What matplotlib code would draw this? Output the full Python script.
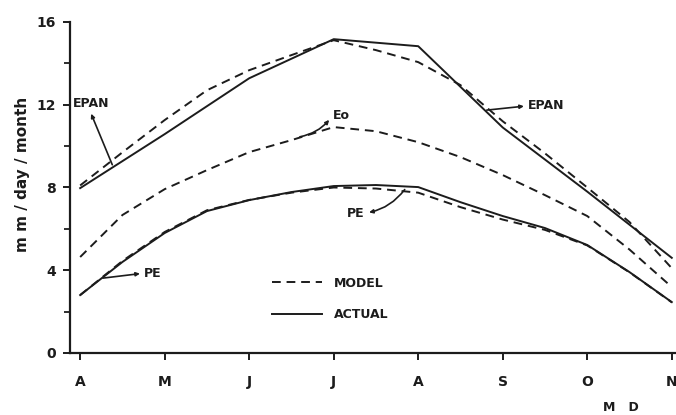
import matplotlib.pyplot as plt
import numpy as np

# month axis (April .. November)
months = ['A', 'M', 'J', 'J', 'A', 'S', 'O', 'N']
month_x = [0, 1, 2, 3, 4, 5, 6, 7]
half_x = [0, 0.5, 1, 1.5, 2, 2.5, 3, 3.5, 4, 4.5, 5, 5.5, 6, 6.5, 7]

# values, mm/day/month
epan_actual = [7.97, 10.58, 13.28, 15.17, 14.83, 10.9, 7.8, 4.6]
epan_model = [8.1, 9.7, 11.26, 12.7, 13.67, 14.4, 15.12, 14.64, 14.06, 12.95, 11.2, 9.65, 8.0, 6.33, 4.1]
eo_model = [4.64, 6.67, 7.92, 8.84, 9.71, 10.29, 10.92, 10.72, 10.19, 9.47, 8.6, 7.63, 6.62, 5.0, 3.19]
pe_actual = [2.8, 4.4, 5.8, 6.86, 7.39, 7.78, 8.07, 8.12, 8.02, 7.29, 6.62, 6.04, 5.22, 3.91, 2.46]
pe_model = [2.8, 4.45, 5.85, 6.9, 7.4, 7.75, 8.0, 7.95, 7.75, 7.05, 6.45, 5.95, 5.2, 3.9, 2.45]

ink = '#1c1c1c'
dash = (0, (4.5, 3))
lw = 1.4

fig = plt.figure(figsize=(6.76, 4.15), dpi=100)
ax = fig.add_axes([0.1036, 0.1494, 0.8964, 0.7976])

ax.plot(month_x, epan_actual, color=ink, lw=lw, ls='-')
ax.plot(half_x, epan_model, color=ink, lw=lw, ls=dash)
ax.plot(half_x, eo_model, color=ink, lw=lw, ls=dash)
ax.plot(half_x, pe_actual, color=ink, lw=lw, ls='-')
ax.plot(half_x, pe_model, color=ink, lw=lw, ls=dash)

ax.set_xlim(-0.12, 7.05)
ax.set_ylim(0, 16)
ax.set_xticks(month_x)
ax.set_xticklabels(months)
ax.set_yticks([0, 4, 8, 12, 16])
ax.set_yticks([2, 6, 10, 14], minor=True)
ax.tick_params(axis='both', which='major', direction='out', length=5, width=1.4,
               labelsize=10, colors=ink, pad=5)
ax.tick_params(axis='x', which='major', pad=11)
ax.tick_params(axis='y', which='minor', direction='out', length=4, width=1.3, colors=ink)
for lab in ax.get_xticklabels() + ax.get_yticklabels():
    lab.set_fontweight('bold')

for s in ['top', 'right']:
    ax.spines[s].set_visible(False)
for s in ['left', 'bottom']:
    ax.spines[s].set_linewidth(1.6)
    ax.spines[s].set_color(ink)

ax.set_ylabel('m m / day / month', fontsize=11, fontweight='bold', color=ink)
ax.yaxis.set_label_coords(-0.066, 0.54)

arrow = dict(arrowstyle='<|-, head_width=0.12, head_length=0.25', color=ink, lw=1.2,
             shrinkA=1, shrinkB=0)
tkw = dict(fontsize=9, fontweight='bold', color=ink, textcoords='data')

ax.annotate('EPAN', xy=(0.38, 9.1), xytext=(-0.085, 12.08), ha='left', va='center',
            arrowprops=dict(arrow, relpos=(0.45, 0)), **tkw)
ax.annotate('Eo', xy=(2.6, 10.45), xytext=(2.99, 11.5), ha='left', va='center',
            arrowprops=dict(arrow, relpos=(0, 0.5), connectionstyle='arc3,rad=-0.2'), **tkw)
ax.annotate('EPAN', xy=(4.81, 11.74), xytext=(5.3, 11.95), ha='left', va='center',
            arrowprops=dict(arrow, relpos=(0, 0.5)), **tkw)
ax.annotate('PE', xy=(0.27, 3.62), xytext=(0.757, 3.86), ha='left', va='center',
            arrowprops=dict(arrow, relpos=(0, 0.5)), **tkw)
ax.annotate('PE', xy=(3.84, 7.9), xytext=(3.16, 6.76), ha='left', va='center',
            arrowprops=dict(arrow, relpos=(1, 0.5), connectionstyle='arc3,rad=0.2'), **tkw)

h1, = ax.plot([], [], color=ink, lw=lw, ls=dash)
h2, = ax.plot([], [], color=ink, lw=lw, ls='-')
leg = ax.legend([h1, h2], ['MODEL', 'ACTUAL'], loc='upper left',
                bbox_to_anchor=(0.333, 0.23), frameon=False, borderpad=0,
                borderaxespad=0, handlelength=4, handletextpad=1.0,
                labelspacing=1.45, prop=dict(size=9, weight='bold'))
for t in leg.get_texts():
    t.set_color(ink)

fig.text(603 / 676, 0.017, 'M   D', fontsize=9, fontweight='bold', color=ink,
         ha='left', va='center')

fig.savefig('out.png', dpi=100, facecolor='white')
